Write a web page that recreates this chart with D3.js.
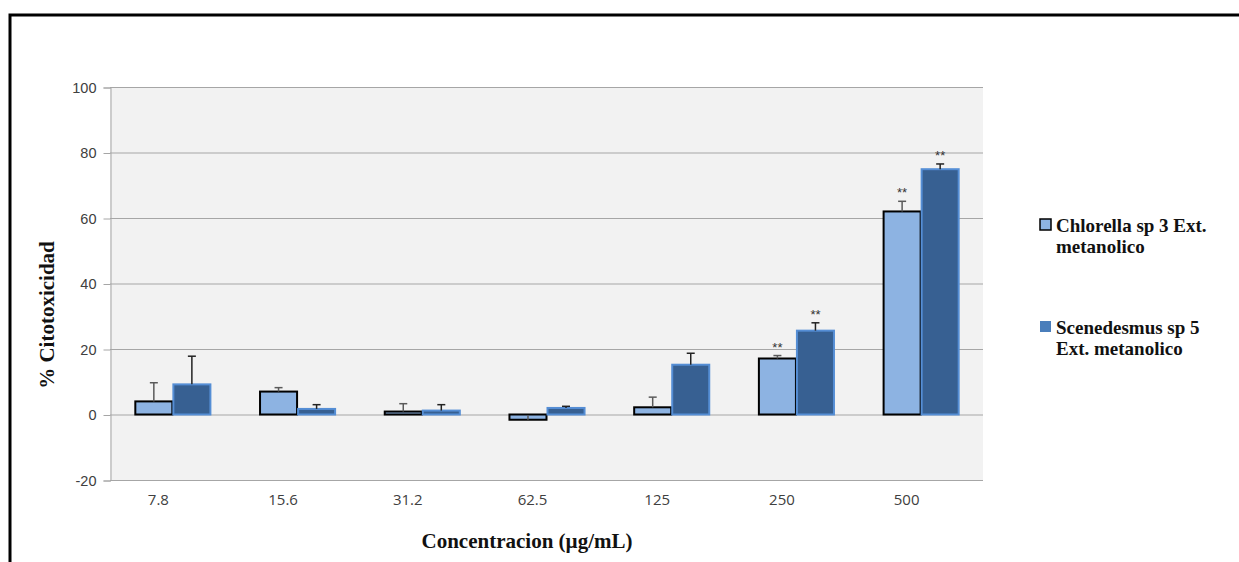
<!DOCTYPE html>
<html>
<head>
<meta charset="utf-8">
<script src="https://cdn.jsdelivr.net/npm/d3@7/dist/d3.min.js"></script>
<style>
  html, body { margin: 0; padding: 0; background: #fff; }
  svg { display: block; }
</style>
</head>
<body>
<svg id="chart" width="1239" height="562"></svg>
<script>
// Concentrations tested (µg/mL)
const categories = ["7.8", "15.6", "31.2", "62.5", "125", "250", "500"];
const seriesNames = ["Chlorella sp 3 Ext. metanolico", "Scenedesmus sp 5 Ext. metanolico"];
// Mean % cytotoxicity per extract
const chlorellaValues = [4.0, 7.0, 0.9, -1.6, 2.2, 17.1, 62.0];
const scenedesmusValues = [9.2, 1.7, 1.2, 2.0, 15.2, 25.6, 74.9];
// Standard deviation (error bar length)
const chlorellaErrors = [5.7, 1.2, 2.4, 1.4, 3.1, 0.9, 3.1];
const scenedesmusErrors = [8.6, 1.3, 1.8, 0.5, 3.5, 2.4, 1.6];
// Significance marks
const chlorellaMarks = ["", "", "", "", "", "**", "**"];
const scenedesmusMarks = ["", "", "", "", "", "**", "**"];
const yTicks = [-20, 0, 20, 40, 60, 80, 100];

const svg = d3.select("#chart");
const plot = { left: 110, right: 983, top: 87, bottom: 480 };

// Outer frame
svg.append("rect")
  .attr("x", 10).attr("y", 15)
  .attr("width", 1260).attr("height", 600)
  .attr("fill", "none").attr("stroke", "#000").attr("stroke-width", 3);

const y = d3.scaleLinear().domain([-20, 100]).range([plot.bottom, plot.top]);
const x0 = d3.scaleBand().domain(categories)
  .range([plot.left, plot.right]).paddingInner(0.39).paddingOuter(0.195);
const x1 = d3.scaleBand().domain(seriesNames).range([0, x0.bandwidth()]);

// Plot background
svg.append("rect")
  .attr("x", plot.left).attr("y", plot.top)
  .attr("width", plot.right - plot.left).attr("height", plot.bottom - plot.top)
  .attr("fill", "#f2f2f2");

// Gridlines
svg.append("g").selectAll("line").data(yTicks).join("line")
  .attr("x1", plot.left).attr("x2", plot.right)
  .attr("y1", d => y(d) + 0.5).attr("y2", d => y(d) + 0.5)
  .attr("stroke", "#a6a6a6").attr("stroke-width", 1);

// Y axis
const yAxis = svg.append("g")
  .attr("transform", `translate(${plot.left + 0.5},0.5)`)
  .call(d3.axisLeft(y).tickValues(yTicks).tickSize(7).tickPadding(7).tickFormat(d => String(d)));
yAxis.select(".domain").attr("stroke", "#a6a6a6");
yAxis.selectAll(".tick line").attr("stroke", "#a6a6a6");
yAxis.selectAll(".tick text")
  .attr("font-family", "Liberation Sans, Arial, sans-serif")
  .attr("font-size", 14.5).attr("fill", "#404040");

// X axis labels
const xAxis = svg.append("g")
  .attr("transform", `translate(-14,${plot.bottom})`)
  .call(d3.axisBottom(x0).tickSize(0).tickPadding(14));
xAxis.select(".domain").remove();
xAxis.selectAll(".tick text")
  .attr("font-family", "Open Sans, Liberation Sans, sans-serif")
  .attr("font-size", 15).attr("fill", "#404040");

const rows = categories.map((c, i) => ({
  cat: c,
  bars: [
    { s: seriesNames[0], v: chlorellaValues[i], e: chlorellaErrors[i], m: chlorellaMarks[i] },
    { s: seriesNames[1], v: scenedesmusValues[i], e: scenedesmusErrors[i], m: scenedesmusMarks[i] }
  ]
}));

const fills = { [seriesNames[0]]: "#8db3e2", [seriesNames[1]]: "#376092" };
const strokes = { [seriesNames[0]]: "#000", [seriesNames[1]]: "#558ed5" };
const errColors = { [seriesNames[0]]: "#5a5a5a", [seriesNames[1]]: "#222" };

const groups = svg.append("g").selectAll("g").data(rows).join("g")
  .attr("transform", d => `translate(${x0(d.cat)},0)`);

groups.selectAll("rect").data(d => d.bars).join("rect")
  .attr("x", d => x1(d.s) + 1)
  .attr("width", x1.bandwidth() - 1)
  .attr("y", d => y(Math.max(0, d.v)))
  .attr("height", d => Math.abs(y(d.v) - y(0)))
  .attr("fill", d => fills[d.s])
  .attr("stroke", d => strokes[d.s])
  .attr("stroke-width", 2);

// Error bars (upward)
const err = groups.selectAll("g.err").data(d => d.bars).join("g").attr("class", "err");
err.append("line")
  .attr("x1", d => x1(d.s) + x1.bandwidth() / 2 + 0.5)
  .attr("x2", d => x1(d.s) + x1.bandwidth() / 2 + 0.5)
  .attr("y1", d => y(d.v)).attr("y2", d => y(d.v + d.e))
  .attr("stroke", d => errColors[d.s]).attr("stroke-width", 1.5);
err.filter(d => d.v > 0).append("line")
  .attr("x1", d => x1(d.s) + x1.bandwidth() / 2 - 3.5)
  .attr("x2", d => x1(d.s) + x1.bandwidth() / 2 + 4.5)
  .attr("y1", d => y(d.v + d.e)).attr("y2", d => y(d.v + d.e))
  .attr("stroke", d => errColors[d.s]).attr("stroke-width", 1.5);

// Significance asterisks
err.filter(d => d.m).append("text")
  .attr("x", d => x1(d.s) + x1.bandwidth() / 2 + 0.5)
  .attr("y", d => y(d.v + d.e) - 4)
  .attr("text-anchor", "middle")
  .attr("font-family", "Liberation Sans, Arial, sans-serif")
  .attr("font-size", 13).attr("fill", "#333")
  .text(d => d.m);

// Axis titles
svg.append("text")
  .attr("transform", "translate(54,315) rotate(-90)")
  .attr("text-anchor", "middle")
  .attr("font-family", "Liberation Serif, Times New Roman, serif")
  .attr("font-weight", "bold").attr("font-size", 21).attr("fill", "#111")
  .text("% Citotoxicidad");

svg.append("text")
  .attr("x", 527).attr("y", 548)
  .attr("text-anchor", "middle")
  .attr("font-family", "Liberation Serif, Times New Roman, serif")
  .attr("font-weight", "bold").attr("font-size", 21).attr("fill", "#111")
  .text("Concentracion (µg/mL)");

// Legend
const legendLines = [["Chlorella sp 3 Ext.", "metanolico"], ["Scenedesmus sp 5", "Ext. metanolico"]];
const legend = svg.append("g").selectAll("g").data(seriesNames).join("g")
  .attr("transform", (d, i) => `translate(1040,${219 + i * 102})`);
legend.append("rect")
  .attr("width", 11).attr("height", 11)
  .attr("fill", d => fills[d] === "#376092" ? "#4a7ebb" : fills[d])
  .attr("stroke", d => d === seriesNames[0] ? "#000" : "none")
  .attr("stroke-width", 1.5);
legend.each(function (d, i) {
  const t = d3.select(this).append("text")
    .attr("font-family", "Liberation Serif, Times New Roman, serif")
    .attr("font-weight", "bold").attr("font-size", 19).attr("fill", "#111");
  legendLines[i].forEach((line, k) => {
    t.append("tspan").attr("x", 16).attr("y", 13 + k * 21).text(line);
  });
});
</script>
</body>
</html>
